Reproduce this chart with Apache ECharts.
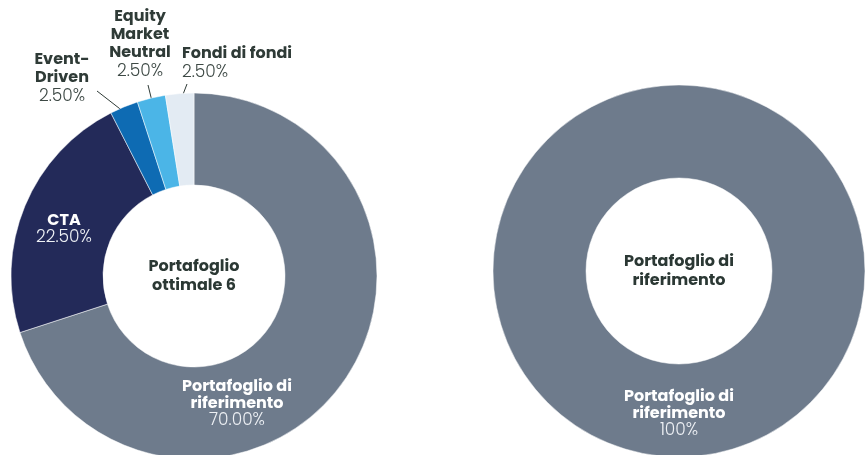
<!DOCTYPE html>
<html>
<head>
<meta charset="utf-8">
<script src="https://cdn.jsdelivr.net/npm/echarts@6/dist/echarts.min.js"></script>
<style>
  html, body { margin: 0; padding: 0; background: #fff; }
  #chart { width: 865px; height: 455px; }
</style>
</head>
<body>
<div id="chart"></div>
<script>
const categories = ['Portafoglio di riferimento', 'CTA', 'Event-Driven', 'Equity Market Neutral', 'Fondi di fondi']
const labelNames = ['Portafoglio di\nriferimento', 'CTA', 'Event-\nDriven', 'Equity\nMarket\nNeutral', 'Fondi di fondi']
const ottimale6 = [70, 22.5, 2.5, 2.5, 2.5]
const riferimento = [100]
const colors = ['#6e7b8c', '#232a59', '#0e6bb3', '#4bb5e7', '#e3ebf3']
const centerTitles = ['Portafoglio\nottimale 6', 'Portafoglio di\nriferimento']

const font = 'Poppins, "Open Sans", sans-serif'
const leftCenter = [194, 276]
const leftRadius = [91, 183]
const rightCenter = [679, 271]
const rightRadius = [93, 186]

// label anchors for the left donut (+ end of the leader line for the small slices)
const leftLabelPos = [
  { x: 237, y: 404, align: 'center', va: 'middle' },
  { x: 64, y: 229, align: 'center', va: 'middle' },
  { x: 62, y: 51, align: 'center', va: 'top', end: [97, 91] },
  { x: 140, y: 8, align: 'center', va: 'top', end: [148, 85] },
  { x: 182, y: 45, align: 'left', va: 'top', end: [187, 84] }
]
const insideIdx = [0, 1]

// mid angle of a slice, degrees clockwise from 12 o'clock
const midAngle = (values, i) => {
  const total = values.reduce((a, b) => a + b, 0)
  let before = 0
  for (let k = 0; k < i; k++) before += values[k]
  return (before + values[i] / 2) / total * 360
}

const rich = {
  n: { fontFamily: font, fontSize: 16, fontWeight: 'bold', color: '#2f3b37', lineHeight: 18, align: 'center' },
  v: { fontFamily: font, fontSize: 17, fontWeight: 300, color: '#3d4945', lineHeight: 20, align: 'center' },
  wn: { fontFamily: font, fontSize: 16, fontWeight: 'bold', color: '#ffffff', lineHeight: 17, align: 'center' },
  wv: { fontFamily: font, fontSize: 17, fontWeight: 300, color: '#eef1f5', lineHeight: 17, align: 'center' }
}
const richLeft = {
  n: Object.assign({}, rich.n, { align: 'left' }),
  v: Object.assign({}, rich.v, { align: 'left' })
}

const leftData = ottimale6.map((v, i) => {
  const inside = insideIdx.includes(i)
  return {
    name: categories[i],
    value: v,
    itemStyle: { color: colors[i] },
    label: {
      position: inside ? 'inside' : 'outside',
      rich: leftLabelPos[i].align === 'left' ? richLeft : rich
    },
    labelLine: { show: !inside }
  }
})

const centerText = (c, text) => ({
  type: 'text', x: c[0], y: c[1],
  style: { text: text, align: 'center', verticalAlign: 'middle', fontFamily: font, fontSize: 16, fontWeight: 'bold', lineHeight: 19, fill: '#2b3834' }
})

const chart = echarts.init(document.getElementById('chart'))
const option = {
  animation: false,
  backgroundColor: '#ffffff',
  graphic: [
    centerText(leftCenter, centerTitles[0]),
    centerText(rightCenter, centerTitles[1])
  ],
  series: [
    {
      type: 'pie',
      center: leftCenter,
      radius: leftRadius,
      startAngle: 90,
      clockwise: true,
      avoidLabelOverlap: false,
      itemStyle: { borderColor: '#ffffff', borderWidth: 0.5 },
      label: {
        formatter: p => {
          const inside = insideIdx.includes(p.dataIndex)
          return '{' + (inside ? 'wn' : 'n') + '|' + labelNames[p.dataIndex] + '}\n{' +
            (inside ? 'wv' : 'v') + '|' + p.value.toFixed(2) + '%}'
        }
      },
      labelLine: { lineStyle: { color: '#2f3b37', width: 1 } },
      labelLayout: p => {
        const pos = leftLabelPos[p.dataIndex]
        const res = { x: pos.x, y: pos.y, align: pos.align, verticalAlign: pos.va }
        if (pos.end) {
          const a = midAngle(ottimale6, p.dataIndex) * Math.PI / 180
          const r = leftRadius[1] - 8
          const start = [leftCenter[0] + r * Math.sin(a), leftCenter[1] - r * Math.cos(a)]
          res.labelLinePoints = [start, pos.end, pos.end]
        }
        return res
      },
      emphasis: { disabled: true },
      data: leftData
    },
    {
      type: 'pie',
      center: rightCenter,
      radius: rightRadius,
      startAngle: 90,
      itemStyle: { borderColor: '#ffffff', borderWidth: 0.5 },
      label: {
        position: 'inside',
        formatter: p => '{wn|' + labelNames[0] + '}\n{wv|' + p.value + '%}',
        rich: rich
      },
      emphasis: { disabled: true },
      data: riferimento.map(v => ({ name: categories[0], value: v, itemStyle: { color: colors[0] } }))
    }
  ]
}
chart.setOption(option)
</script>
</body>
</html>
